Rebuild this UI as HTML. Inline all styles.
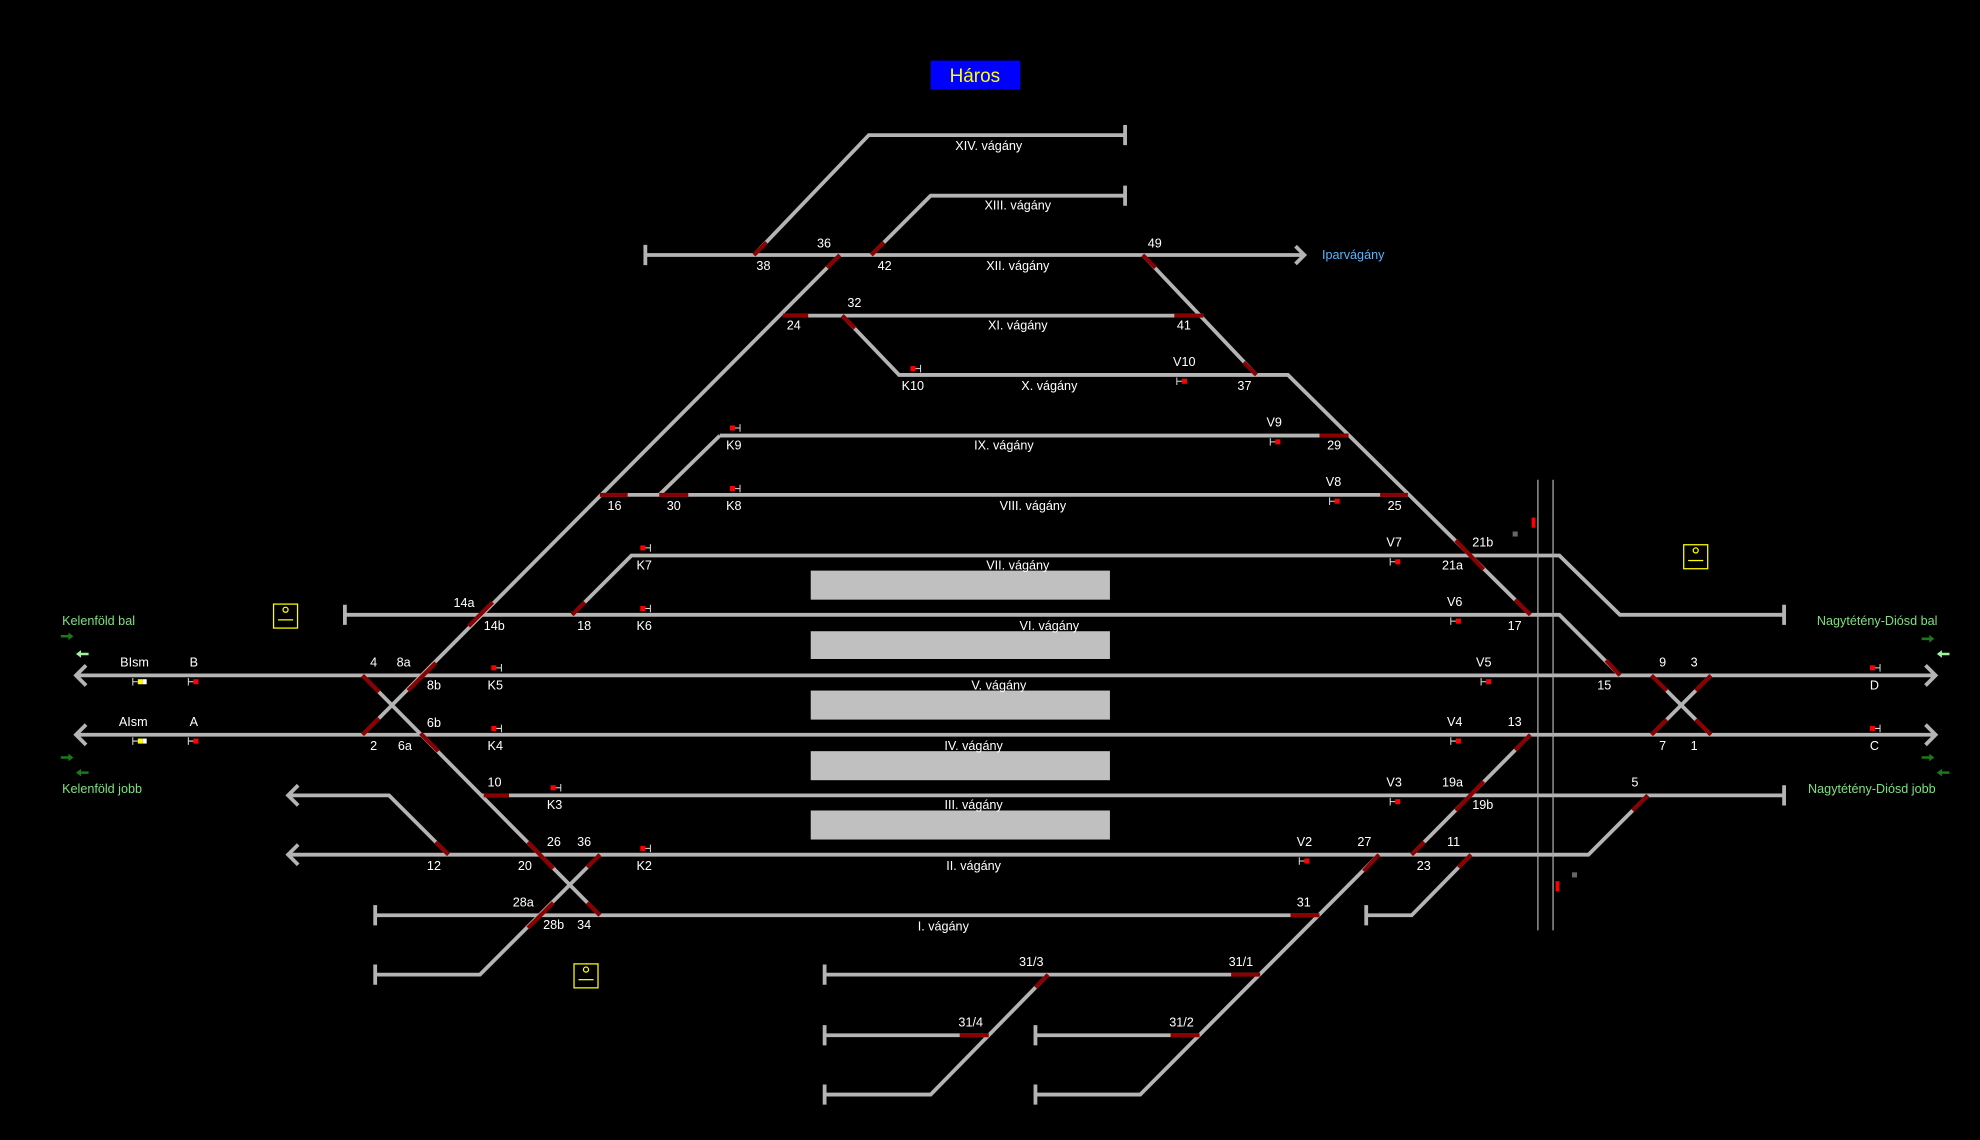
<!DOCTYPE html>
<html><head><meta charset="utf-8"><style>
html,body{margin:0;padding:0;background:#000;width:1980px;height:1140px;overflow:hidden}
svg{display:block}
text{font-family:"Liberation Sans","DejaVu Sans",sans-serif;fill:#fff;font-size:10px}
.l{stroke:#b4b4b4;stroke-width:3;fill:none}
.r{stroke:#8b0000;stroke-width:3.2;fill:none}
.v{stroke:#aaa;stroke-width:1;fill:none}
.g text{fill:#7fe07f;font-size:10px}
</style></head><body>
<svg width="1980" height="1140" viewBox="0 0 1568 903" xmlns="http://www.w3.org/2000/svg">
<rect x="0" y="0" width="1568" height="903" fill="#000"/>
<rect x="737" y="48" width="71" height="23" fill="#0000ff"/>
<text x="772" y="65" text-anchor="middle" style="fill:#ffff00;font-size:15px">Háros</text>

<g fill="#c0c0c0">
<rect x="642" y="452" width="237" height="23"/><rect x="642" y="500" width="237" height="22"/>
<rect x="642" y="547" width="237" height="23"/><rect x="642" y="595" width="237" height="23"/>
<rect x="642" y="642" width="237" height="23"/></g>

<g class="l">
<path d="M597,202 L688,107 L891,107 M891,99 V115"/>
<path d="M690,202 L737,155 L891,155 M891,147 V163"/>
<path d="M511,202 H1033 M1026,195 L1033,202 L1026,209 M511,194 V210"/>
<path d="M665,202 L287,582"/>
<path d="M620,250 H953"/>
<path d="M667,250 L712,297 H1020 L1212,487"/>
<path d="M905,202 L995,297"/>
<path d="M570,345 H1068"/>
<path d="M475,392 H1115"/>
<path d="M522,392 L570,345"/>
<path d="M453,487 L500,440 H1235 L1283,487 H1413 M1413,479 V495"/>
<path d="M273,487 H1235 L1283,535 M273,479 V495"/>
<path d="M60,535 H1533 M68,527 L60,535 L68,543 M1525,527 L1533,535 L1525,543"/>
<path d="M60,582 H1533 M68,574 L60,582 L68,590 M1525,574 L1533,582 L1525,590"/>
<path d="M287,535 L475,725"/>
<path d="M1308,535 L1355,582 M1355,535 L1308,582"/>
<path d="M380,630 H1413 M1413,622 V638"/>
<path d="M228,630 H308 L355,677 M236,622 L228,630 L236,638"/>
<path d="M228,677 H1258 L1305,630 M236,669 L228,677 L236,685"/>
<path d="M297,725 H1045 M297,717 V733"/>
<path d="M475,677 L380,772 H297 M297,764 V780"/>
<path d="M1092,677 L903,867 H820 M820,859 V875"/>
<path d="M653,772 H998 M653,764 V780"/>
<path d="M830,772 L737,867 H653 M653,859 V875"/>
<path d="M653,820 H783 M653,812 V828"/>
<path d="M820,820 H950 M820,812 V828"/>
<path d="M1212,582 L1118,677"/>
<path d="M1165,677 L1118,725 H1082 M1082,717 V733"/>
</g>
<path class="v" d="M1218,380 V737 M1230,380 V737"/>

<g class="r">
<path d="M597,202 L607,192"/><path d="M655,212 L665,202"/><path d="M690,202 L700,192"/><path d="M905,202 L915,212"/>
<path d="M620,250 H640"/><path d="M667,250 L677,260"/><path d="M930,250 H953"/><path d="M985,287 L995,297"/>
<path d="M1045,345 H1068"/><path d="M475,392 H497"/><path d="M522,392 H545"/><path d="M1093,392 H1115"/>
<path d="M1153,428 L1175,451"/><path d="M1200,475 L1212,487"/>
<path d="M371,496 L390,477"/><path d="M453,487 L463,477"/>
<path d="M323,547 L345,525"/><path d="M287,535 L300,548"/><path d="M287,582 L300,569"/><path d="M333,581 L347,595"/>
<path d="M383,630 H403"/><path d="M345,667 L355,677"/>
<path d="M418,667 L438,688"/><path d="M465,687 L475,677"/><path d="M418,735 L438,715"/><path d="M465,715 L475,725"/>
<path d="M1080,690 L1092,677"/><path d="M1022,725 H1045"/><path d="M975,772 H998"/><path d="M820,782 L830,772"/>
<path d="M927,820 H950"/><path d="M760,820 H783"/>
<path d="M1200,594 L1212,582"/><path d="M1153,642 L1175,619"/><path d="M1118,677 L1128,667"/><path d="M1155,687 L1165,677"/>
<path d="M1272,523 L1283,535"/>
<path d="M1308,535 L1320,547"/><path d="M1343,547 L1355,535"/><path d="M1308,582 L1320,570"/><path d="M1343,570 L1355,582"/>
<path d="M1293,642 L1305,630"/>
</g>

<g fill="#ff0000">
<rect x="721" y="290" width="4" height="4"/><rect x="936" y="300" width="4" height="4"/>
<rect x="578" y="337" width="4" height="4"/><rect x="1010" y="348" width="4" height="4"/>
<rect x="578" y="385" width="4" height="4"/><rect x="1057" y="395" width="4" height="4"/>
<rect x="507" y="432" width="4" height="4"/><rect x="1105" y="443" width="4" height="4"/>
<rect x="507" y="480" width="4" height="4"/><rect x="1153" y="490" width="4" height="4"/>
<rect x="389" y="527" width="4" height="4"/><rect x="1177" y="538" width="4" height="4"/>
<rect x="389" y="575" width="4" height="4"/><rect x="1153" y="585" width="4" height="4"/>
<rect x="436" y="622" width="4" height="4"/><rect x="1105" y="633" width="4" height="4"/>
<rect x="507" y="670" width="4" height="4"/><rect x="1033" y="680" width="4" height="4"/>
<rect x="153" y="538" width="4" height="4"/><rect x="153" y="585" width="4" height="4"/>
<rect x="1481" y="527" width="4" height="4"/><rect x="1481" y="575" width="4" height="4"/>
<rect x="1213" y="410" width="3" height="8"/><rect x="1232" y="698" width="3" height="8"/>
</g>
<g fill="#ffff00"><rect x="109" y="538" width="4" height="4"/><rect x="109" y="585" width="4" height="4"/></g>
<g fill="#fff"><rect x="113" y="538" width="3" height="4"/><rect x="113" y="585" width="3" height="4"/></g>
<g fill="#666"><rect x="1198" y="421" width="4" height="4"/><rect x="1245" y="691" width="4" height="4"/></g>
<g stroke="#ddd" stroke-width="0.8" fill="none">
<path d="M725,292 H729 M729,289 V295"/><path d="M936,302 H932 M932,299 V305"/>
<path d="M582,339 H586 M586,336 V342"/><path d="M1010,350 H1006 M1006,347 V353"/>
<path d="M582,387 H586 M586,384 V390"/><path d="M1057,397 H1053 M1053,394 V400"/>
<path d="M511,434 H515 M515,431 V437"/><path d="M1105,445 H1101 M1101,442 V448"/>
<path d="M511,482 H515 M515,479 V485"/><path d="M1153,492 H1149 M1149,489 V495"/>
<path d="M393,529 H397 M397,526 V532"/><path d="M1177,540 H1173 M1173,537 V543"/>
<path d="M393,577 H397 M397,574 V580"/><path d="M1153,587 H1149 M1149,584 V590"/>
<path d="M440,624 H444 M444,621 V627"/><path d="M1105,635 H1101 M1101,632 V638"/>
<path d="M511,672 H515 M515,669 V675"/><path d="M1033,682 H1029 M1029,679 V685"/>
<path d="M153,540 H149 M149,537 V543"/><path d="M153,587 H149 M149,584 V590"/>
<path d="M109,540 H105 M105,537 V543"/><path d="M109,587 H105 M105,584 V590"/>
<path d="M1485,529 H1489 M1489,526 V532"/><path d="M1485,577 H1489 M1489,574 V580"/>
</g>

<g stroke="#ffff00" stroke-width="1" fill="none">
<rect x="216.5" y="478.5" width="19" height="19"/><circle cx="226" cy="483" r="2"/><path d="M220,491 H232"/>
<rect x="454.5" y="763.5" width="19" height="19"/><circle cx="464" cy="768" r="2"/><path d="M458,776 H470"/>
<rect x="1333.5" y="431.5" width="19" height="19"/><circle cx="1343" cy="436" r="2"/><path d="M1337,444 H1349"/>
</g>

<g fill="#1a7a1a"><path d="M48,503 h6 v-2 l4,3 l-4,3 v-2 h-6z"/><path d="M48,599 h6 v-2 l4,3 l-4,3 v-2 h-6z"/><path d="M70,611 h-6 v-2 l-4,3 l4,3 v-2 h6z"/>
<path d="M1522,505 h6 v-2 l4,3 l-4,3 v-2 h-6z"/><path d="M1522,599 h6 v-2 l4,3 l-4,3 v-2 h-6z"/><path d="M1544,611 h-6 v-2 l-4,3 l4,3 v-2 h6z"/></g>
<g fill="#a0f0a0"><path d="M70,517 h-6 v-2 l-4,3 l4,3 v-2 h6z"/><path d="M1544,517 h-6 v-2 l-4,3 l4,3 v-2 h6z"/></g>

<g class="g"><text x="49" y="495">Kelenföld bal</text><text x="49" y="628">Kelenföld jobb</text>
<text x="1439" y="495">Nagytétény-Diósd bal</text><text x="1432" y="628">Nagytétény-Diósd jobb</text></g>
<text x="1047" y="205" style="fill:#5ab4ff">Iparvágány</text>

<g text-anchor="middle" style="font-size:10px">
<text x="783" y="119">XIV. vágány</text><text x="806" y="166">XIII. vágány</text><text x="806" y="214">XII. vágány</text>
<text x="806" y="261">XI. vágány</text><text x="831" y="309">X. vágány</text><text x="795" y="356">IX. vágány</text>
<text x="818" y="404">VIII. vágány</text><text x="806" y="451">VII. vágány</text><text x="831" y="499">VI. vágány</text>
<text x="791" y="546">V. vágány</text><text x="771" y="594">IV. vágány</text><text x="771" y="641">III. vágány</text>
<text x="771" y="689">II. vágány</text><text x="747" y="737">I. vágány</text>
</g>
<g>
<text x="599" y="214">38</text><text x="647" y="196">36</text><text x="695" y="214">42</text><text x="909" y="196">49</text>
<text x="671" y="243">32</text><text x="623" y="261">24</text><text x="932" y="261">41</text>
<text x="714" y="309">K10</text><text x="929" y="290">V10</text><text x="980" y="309">37</text>
<text x="575" y="356">K9</text><text x="1003" y="338">V9</text><text x="1051" y="356">29</text>
<text x="481" y="404">16</text><text x="528" y="404">30</text><text x="575" y="404">K8</text><text x="1050" y="385">V8</text><text x="1099" y="404">25</text>
<text x="504" y="451">K7</text><text x="1098" y="433">V7</text><text x="1166" y="433">21b</text><text x="1142" y="451">21a</text>
<text x="359" y="481">14a</text><text x="383" y="499">14b</text><text x="457" y="499">18</text><text x="504" y="499">K6</text><text x="1146" y="480">V6</text><text x="1194" y="499">17</text>
<text x="95" y="528">BIsm</text><text x="150" y="528">B</text><text x="293" y="528">4</text><text x="314" y="528">8a</text><text x="338" y="546">8b</text><text x="386" y="546">K5</text>
<text x="1169" y="528">V5</text><text x="1265" y="546">15</text><text x="1314" y="528">9</text><text x="1339" y="528">3</text><text x="1481" y="546">D</text>
<text x="94" y="575">AIsm</text><text x="150" y="575">A</text><text x="338" y="576">6b</text><text x="293" y="594">2</text><text x="315" y="594">6a</text><text x="386" y="594">K4</text>
<text x="1146" y="575">V4</text><text x="1194" y="575">13</text><text x="1314" y="594">7</text><text x="1339" y="594">1</text><text x="1481" y="594">C</text>
<text x="386" y="623">10</text><text x="433" y="641">K3</text><text x="1098" y="623">V3</text><text x="1142" y="623">19a</text><text x="1166" y="641">19b</text><text x="1292" y="623">5</text>
<text x="433" y="670">26</text><text x="457" y="670">36</text><text x="338" y="689">12</text><text x="410" y="689">20</text><text x="504" y="689">K2</text>
<text x="1027" y="670">V2</text><text x="1075" y="670">27</text><text x="1146" y="670">11</text><text x="1122" y="689">23</text>
<text x="406" y="718">28a</text><text x="430" y="736">28b</text><text x="457" y="736">34</text><text x="1027" y="718">31</text>
<text x="807" y="765">31/3</text><text x="973" y="765">31/1</text><text x="759" y="813">31/4</text><text x="926" y="813">31/2</text>
</g>
</svg>
</body></html>
